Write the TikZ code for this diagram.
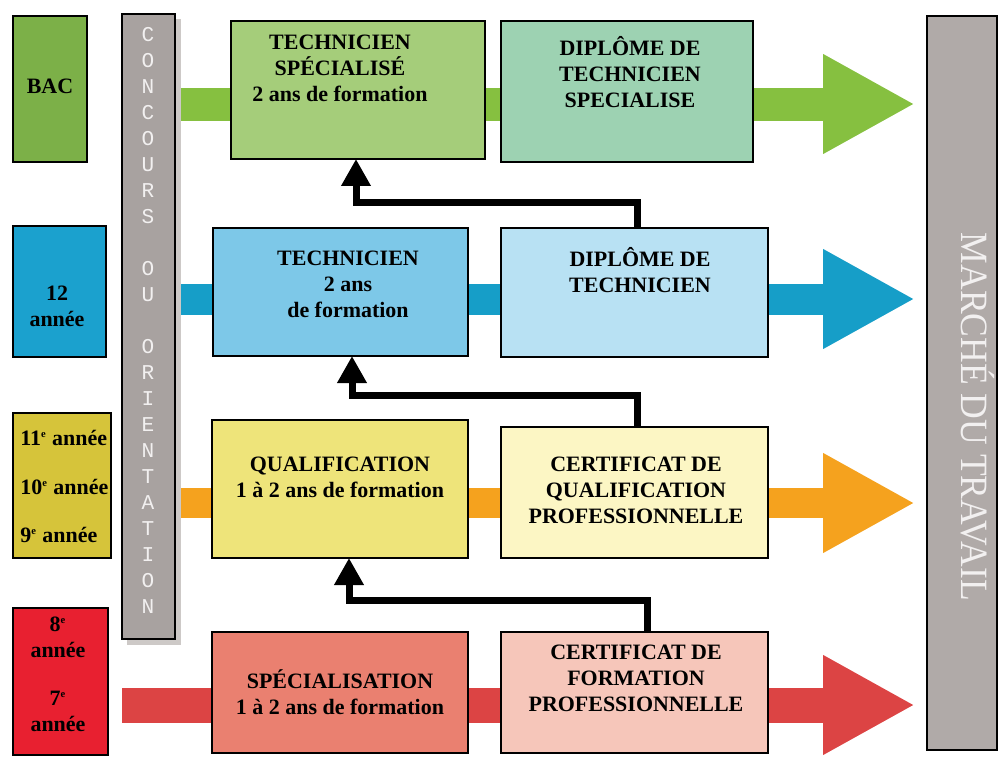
\documentclass[tikz,border=0pt]{standalone}
\usepackage{fontspec}
\usepackage{graphicx}
\setmainfont{Liberation Serif}
\newfontfamily\monofnt{Liberation Mono}
\usetikzlibrary{arrows.meta,backgrounds}
\definecolor{cBac}{RGB}{124,176,72}
\definecolor{cDouze}{RGB}{27,161,206}
\definecolor{cJaune}{RGB}{214,196,58}
\definecolor{cRouge}{RGB}{232,32,48}
\definecolor{cGris}{RGB}{168,162,160}
\definecolor{cOmbre}{RGB}{205,201,199}
\definecolor{cTS}{RGB}{165,205,122}
\definecolor{cDipTS}{RGB}{157,210,178}
\definecolor{cTech}{RGB}{125,200,232}
\definecolor{cDipTech}{RGB}{184,225,243}
\definecolor{cQual}{RGB}{238,228,122}
\definecolor{cCertQ}{RGB}{252,246,196}
\definecolor{cSpec}{RGB}{234,128,112}
\definecolor{cCertF}{RGB}{246,198,186}
\definecolor{cMarche}{RGB}{176,170,168}
\definecolor{bGreen}{RGB}{134,192,64}
\definecolor{bBlue}{RGB}{22,158,200}
\definecolor{bOrange}{RGB}{245,162,30}
\definecolor{bRed}{RGB}{220,68,68}
\definecolor{cWhiteTxt}{RGB}{242,240,240}
\newcommand\pbox[6]{\node[pboxst,fill=#6,minimum width={(#4-#2)*0.02cm},minimum height={(#5-#3)*0.02cm}] (#1) at ({(#2+#4)/2},{(#3+#5)/2}) {};}
\newcommand\supe{\textsuperscript{\fontsize{6}{6}\selectfont e}}
\begin{document}
\begin{tikzpicture}[x=0.02cm,y=-0.02cm,
  pboxst/.style={draw=black,line width=1pt,inner sep=0pt,outer sep=0pt,rectangle},
  txt/.style={align=center,inner sep=0pt,font=\bfseries\fontsize{12.5}{14.8}\selectfont},
  ltxt/.style={anchor=west,inner sep=0pt,font=\bfseries\fontsize{12.5}{14.8}\selectfont},
  bararrow/.style={line width=0.64cm,-{Triangle[length=1.84cm,width=1.86cm]},shorten >=0.24cm},
  fb/.style={line width=0.14cm,miter limit=10,-{Triangle[length=0.54cm,width=0.56cm]}}]
\useasboundingbox (0,0) rectangle (998,758);
% left boxes
\pbox{bac}{13}{16}{87}{162}{cBac}
\pbox{douze}{13}{226}{106}{357}{cDouze}
\pbox{jaune}{13}{413}{111}{558}{cJaune}
\pbox{rouge}{13}{608}{108}{755}{cRouge}
% column
\pbox{conc}{122}{14}{175}{639}{cGris}
% main boxes
\pbox{ts}{231}{21}{485}{159}{cTS}
\pbox{dipts}{501}{21}{753}{162}{cDipTS}
\pbox{tech}{213}{228}{468}{356}{cTech}
\pbox{diptech}{501}{228}{768}{357}{cDipTech}
\pbox{qual}{212}{420}{468}{558}{cQual}
\pbox{certq}{501}{427}{768}{558}{cCertQ}
\pbox{spec}{212}{632}{468}{753}{cSpec}
\pbox{certf}{501}{632}{768}{753}{cCertF}
\pbox{marche}{927}{16}{997}{750}{cMarche}
% helper coordinates
\coordinate (yG) at (0,104);
\coordinate (yB) at (0,299);
\coordinate (yO) at (0,503);
\coordinate (yR) at (0,705);
\coordinate (x637) at (637,0);
\coordinate (x647) at (647,0);
\coordinate (x356) at (356,0);
\coordinate (x352) at (352,0);
\coordinate (x349) at (349,0);
\coordinate (y202) at (0,202);
\coordinate (y395) at (0,395);
\coordinate (y600) at (0,600);
% bars behind
\begin{pgfonlayer}{background}
\fill[white] (0,0) rectangle (998,758);
\draw[bararrow,draw=bGreen,fill=bGreen,line width=0.66cm] (conc.east |- yG) -- (marche.west |- yG);
\draw[bararrow,draw=bBlue,fill=bBlue,line width=0.62cm] (conc.east |- yB) -- (marche.west |- yB);
\draw[bararrow,draw=bOrange,fill=bOrange,line width=0.60cm] (conc.east |- yO) -- (marche.west |- yO);
\draw[bararrow,draw=bRed,fill=bRed,line width=0.70cm] (conc.west |- yR) -- (marche.west |- yR);
\fill[cOmbre] (127,19) rectangle (181,645);
\end{pgfonlayer}
% feedback arrows
\draw[fb] (diptech.north -| x637) |- (x356 |- y202) -- (ts.south -| x356);
\draw[fb] (certq.north -| x637) |- (x352 |- y395) -- (tech.south -| x352);
\draw[fb] (certf.north -| x647) |- (x349 |- y600) -- (qual.south -| x349);
% texts
\node[txt] (tbac) at (50,86) {BAC};
\node[txt] (tdouze) at (57,306) {12\\année};
\node[ltxt] (t11) at (20,438) {11\supe\ année};
\node[ltxt] (t10) at (20,487) {10\supe\ année};
\node[ltxt] (t9) at (20,535) {9\supe\ année};
\node[txt] (t8) at (58,637) {8\supe\\année};
\node[txt] (t7) at (58,711) {7\supe\\année};
\node[txt,text=cWhiteTxt,font=\monofnt\fontsize{12}{14.8}\selectfont] (tconc) at (148,320)
  {C\\O\\N\\C\\O\\U\\R\\S\\\strut\\O\\U\\\strut\\O\\R\\I\\E\\N\\T\\A\\T\\I\\O\\N};
\node[txt] (tts) at (340,68) {TECHNICIEN\\SPÉCIALISÉ\\2 ans de formation};
\node[txt] (tdipts) at (630,72) {DIPLÔME DE\\TECHNICIEN\\SPECIALISE};
\node[txt] (ttech) at (348,284) {TECHNICIEN\\2 ans\\de formation};
\node[txt] (tdiptech) at (640,270) {DIPLÔME DE\\TECHNICIEN};
\node[txt] (tqual) at (340,477) {QUALIFICATION\\1 à 2 ans de formation};
\node[txt] (tcertq) at (636,490) {CERTIFICAT DE\\QUALIFICATION\\PROFESSIONNELLE};
\node[txt] (tspec) at (340,692) {SPÉCIALISATION\\1 à 2 ans de formation};
\node[txt] (tcertf) at (636,678) {CERTIFICAT DE\\FORMATION\\PROFESSIONNELLE};
\node[rotate=-90,inner sep=0pt,text=cWhiteTxt,font=\fontsize{22}{22}\selectfont] (tmarche) at (978,417) {\scalebox{0.92}[1]{MARCHÉ DU TRAVAIL}};
\end{tikzpicture}
\end{document}
